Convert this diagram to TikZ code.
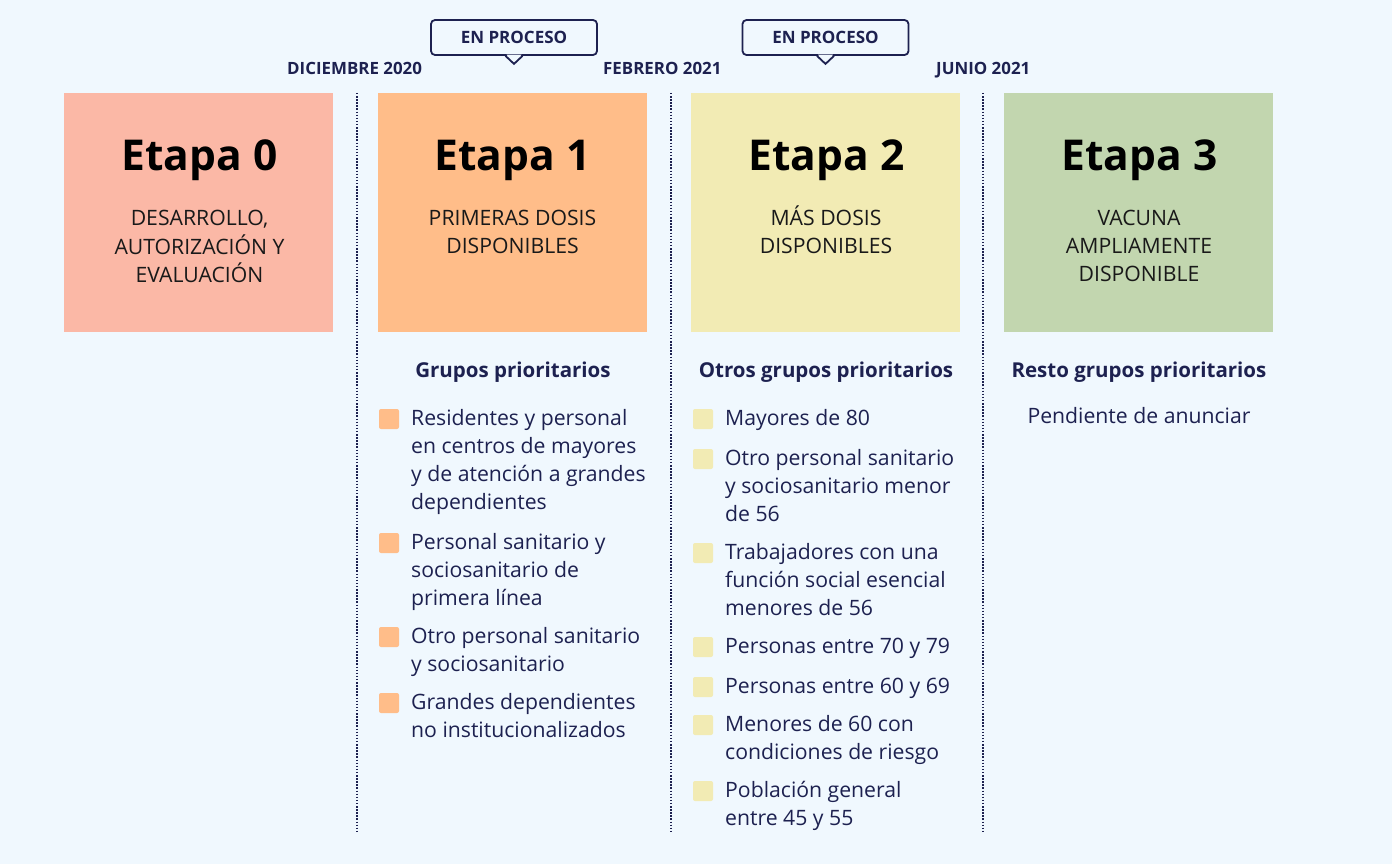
\documentclass[tikz,border=0pt]{standalone}
\usepackage{fontspec}
\setmainfont{Open Sans}
\definecolor{bg}{HTML}{F0F8FE}
\definecolor{navy}{HTML}{1D2150}
\definecolor{c0}{HTML}{FBB8A6}
\definecolor{c1}{HTML}{FFBD89}
\definecolor{c2}{HTML}{F2EBB4}
\definecolor{c3}{HTML}{C2D6AF}
\tikzset{
  stagebox/.style={minimum width=269pt, minimum height=239pt, inner sep=0pt, draw=none},
  stagetitle/.style={font=\fontsize{42.5}{50}\selectfont\bfseries, text=black, anchor=base, inner sep=0pt},
  stagesub/.style={font=\fontsize{21.2}{28}\selectfont, text=black!90, align=center, anchor=north, inner sep=0pt},
  datelbl/.style={font=\fontsize{16.9}{20}\selectfont\bfseries, text=navy, anchor=base west, inner sep=0pt},
  callout/.style={draw=navy, line width=1.8pt, fill=bg, rounded corners=4pt, minimum width=166pt, minimum height=35pt, inner sep=0pt, font=\fontsize{17}{20}\selectfont\bfseries, text=navy},
  grphead/.style={font=\fontsize{20.5}{28}\selectfont\bfseries, text=navy, anchor=base, inner sep=0pt},
  item/.style={font=\fontsize{21.2}{28}\selectfont, text=navy, align=left, anchor=north west, inner sep=0pt},
  bul/.style={minimum width=20pt, minimum height=20pt, inner sep=0pt, rounded corners=2pt},
  sep/.style={navy, line width=1.5pt, dash pattern=on 1.5pt off 1.6pt},
}
\begin{document}
\begin{tikzpicture}[x=1pt,y=-1pt]
\useasboundingbox (0,0) rectangle (1392,864);
\fill[bg] (0,0) rectangle (1392,864);

% stage boxes
\node[stagebox, fill=c0] (s0) at (198.5,212.5) {};
\node[stagebox, fill=c1] (s1) at (512.5,212.5) {};
\node[stagebox, fill=c2] (s2) at (825.5,212.5) {};
\node[stagebox, fill=c3] (s3) at (1138.5,212.5) {};

\node[stagetitle] (t0) at (199.5,170) {Etapa 0};
\node[stagetitle] (t1) at (512.5,170) {Etapa 1};
\node[stagetitle] (t2) at (826.5,170) {Etapa 2};
\node[stagetitle] (t3) at (1139.5,170) {Etapa 3};

\node[stagesub] (u0) at (199.5,205.4) {\strut DESARROLLO,\\AUTORIZACIÓN Y\\EVALUACIÓN};
\node[stagesub] (u1) at (512.5,205.4) {\strut PRIMERAS DOSIS\\DISPONIBLES};
\node[stagesub] (u2) at (826,205.4) {\strut MÁS DOSIS\\DISPONIBLES};
\node[stagesub] (u3) at (1139,205.4) {\strut VACUNA\\AMPLIAMENTE\\DISPONIBLE};

% separators
\coordinate (d1a) at (357,93); \coordinate (d1b) at (357,831);
\coordinate (d2a) at (671,93); \coordinate (d2b) at (671,831);
\coordinate (d3a) at (983,93); \coordinate (d3b) at (983,831);
\draw[sep] (d1a) -- (d1b);
\draw[sep] (d2a) -- (d2b);
\draw[sep] (d3a) -- (d3b);

% dates
\node[datelbl] (dt1) at (287,75) {DICIEMBRE 2020};
\node[datelbl] (dt2) at (603,75) {FEBRERO 2021};
\node[datelbl] (dt3) at (936,75) {JUNIO 2021};

% callouts
\node[callout] (ep1) at (514,37.5) {EN PROCESO};
\node[callout] (ep2) at (825.5,37.5) {EN PROCESO};
\foreach \n in {ep1,ep2}{
  \fill[bg] ([xshift=-7.5pt,yshift=1.2pt]\n.south) -- ([yshift=-8pt]\n.south) -- ([xshift=7.5pt,yshift=1.2pt]\n.south) -- cycle;
  \draw[navy, line width=1.8pt, line join=miter] ([xshift=-8.5pt]\n.south) -- ([yshift=-8pt]\n.south) -- ([xshift=8.5pt]\n.south);
}

% headers
\node[grphead] (h1) at (513,377) {Grupos prioritarios};
\node[grphead] (h2) at (826,377) {Otros grupos prioritarios};
\node[grphead] (h3) at (1139,377) {Resto grupos prioritarios};
\node[font=\fontsize{21.2}{28}\selectfont, text=navy, anchor=base, inner sep=0pt] (pend) at (1139,423) {Pendiente de anunciar};

% column 1 items
\node[bul, fill=c1] (b11) at (389,419) {};
\node[item] (i11) at (411,405.4) {\strut Residentes y personal\\en centros de mayores\\y de atención a grandes\\dependientes};
\node[bul, fill=c1] (b12) at (389,543) {};
\node[item] (i12) at (411,529.4) {\strut Personal sanitario y\\sociosanitario de\\primera línea};
\node[bul, fill=c1] (b13) at (389,637) {};
\node[item] (i13) at (411,623.4) {\strut Otro personal sanitario\\y sociosanitario};
\node[bul, fill=c1] (b14) at (389,703) {};
\node[item] (i14) at (411,689.4) {\strut Grandes dependientes\\no institucionalizados};

% column 2 items
\node[bul, fill=c2] (b21) at (703,419) {};
\node[item] (i21) at (725,405.4) {\strut Mayores de 80};
\node[bul, fill=c2] (b22) at (703,459) {};
\node[item] (i22) at (725,445.4) {\strut Otro personal sanitario\\y sociosanitario menor\\de 56};
\node[bul, fill=c2] (b23) at (703,553) {};
\node[item] (i23) at (725,539.4) {\strut Trabajadores con una\\función social esencial\\menores de 56};
\node[bul, fill=c2] (b24) at (703,647) {};
\node[item] (i24) at (725,633.4) {\strut Personas entre 70 y 79};
\node[bul, fill=c2] (b25) at (703,687) {};
\node[item] (i25) at (725,673.4) {\strut Personas entre 60 y 69};
\node[bul, fill=c2] (b26) at (703,725) {};
\node[item] (i26) at (725,711.4) {\strut Menores de 60 con\\condiciones de riesgo};
\node[bul, fill=c2] (b27) at (703,791) {};
\node[item] (i27) at (725,777.4) {\strut Población general\\entre 45 y 55};
\end{tikzpicture}
\end{document}
